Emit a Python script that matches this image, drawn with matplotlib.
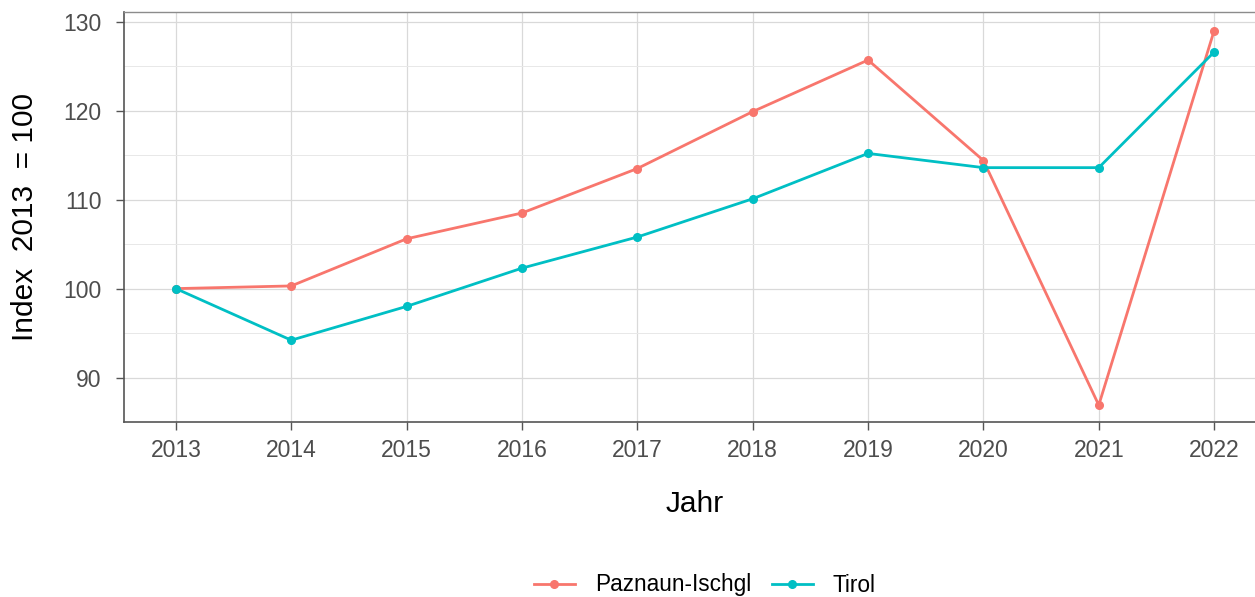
import matplotlib
matplotlib.use("Agg")
import matplotlib.pyplot as plt
from matplotlib.ticker import MultipleLocator

plt.rcParams["font.family"] = ["Liberation Sans", "DejaVu Sans"]

years = [2013, 2014, 2015, 2016, 2017, 2018, 2019, 2020, 2021, 2022]
paznaun = [100.0, 100.3, 105.6, 108.5, 113.5, 119.9, 125.7, 114.4, 86.9, 129.0]
tirol = [100.0, 94.2, 98.0, 102.3, 105.8, 110.1, 115.2, 113.6, 113.6, 126.6]
series_names = ["Paznaun-Ischgl", "Tirol"]
series_colors = ["#F8766D", "#00BFC4"]

fig = plt.figure(figsize=(12.55, 5.97), dpi=100)
# panel runs a bit past the right edge, as in the source image
ax = fig.add_axes([0.0988, 0.2931, 0.910, 0.6868])

for vals, name, col in zip([paznaun, tirol], series_names, series_colors):
    ax.plot(years, vals, color=col, lw=2.0, marker="o", ms=5.5, label=name, zorder=3)

ax.set_xlim(2012.55, 2022.45)
ax.set_ylim(85.0, 131.1)
ax.set_xticks(years)
ax.yaxis.set_major_locator(MultipleLocator(10))
ax.yaxis.set_minor_locator(MultipleLocator(5))
ax.grid(True, which="major", color="#D9D9D9", lw=0.9)
ax.grid(True, which="minor", axis="y", color="#E8E8E8", lw=0.7)
ax.set_axisbelow(True)

for side in ["top", "right"]:
    ax.spines[side].set_color("#8C8C8C")
    ax.spines[side].set_linewidth(1.0)
for side in ["left", "bottom"]:
    ax.spines[side].set_color("#555555")
    ax.spines[side].set_linewidth(1.2)

ax.tick_params(axis="both", which="major", labelsize=16.5, labelcolor="#4D4D4D",
               color="#555555", length=5.5, width=1)
ax.tick_params(axis="x", which="major", pad=7)
ax.tick_params(axis="y", which="major", pad=10.5)
ax.tick_params(axis="y", which="minor", length=0)

ax.set_xlabel("Jahr", fontsize=21.5, labelpad=20)
ax.set_ylabel("Index  2013  = 100", fontsize=21.5, labelpad=18)

fig.legend(loc="center", bbox_to_anchor=(705 / 1255, 1 - 585 / 597), ncol=2, frameon=False,
           fontsize=16.3, handlelength=1.8, columnspacing=0.9, handletextpad=0.9)

fig.savefig("out.png", dpi=100)
